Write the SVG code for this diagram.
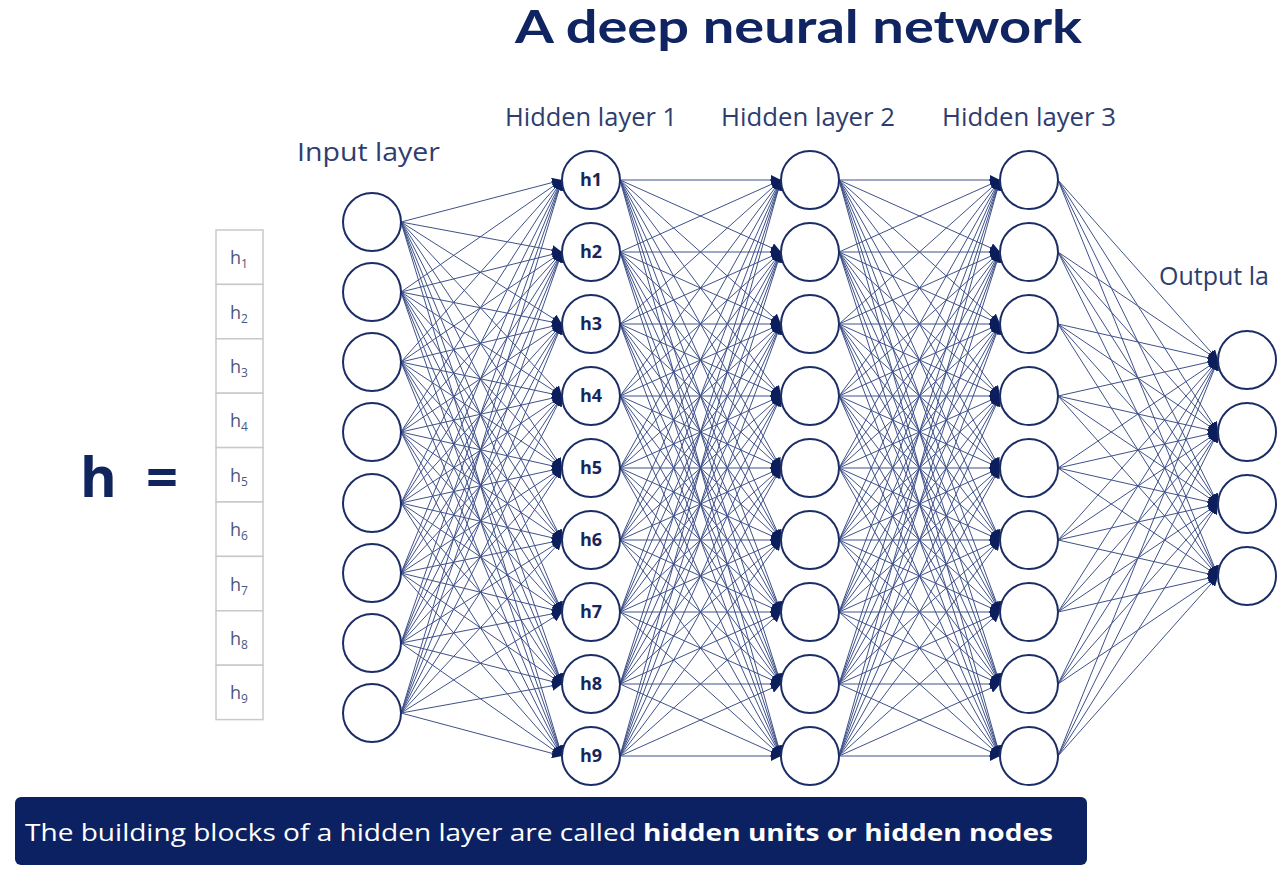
<svg xmlns="http://www.w3.org/2000/svg" width="1279" height="875" viewBox="0 0 1279 875">
<style>
.title{font-family:Lato,"Open Sans",sans-serif;font-weight:700;font-size:46px;fill:#0f2461}
.lbl{font-family:"Open Sans","Liberation Sans",sans-serif;font-size:25px;fill:#2e3d6e}
.node{fill:#ffffff;stroke:#1c2d66;stroke-width:2}
.hl{font-family:"Open Sans","Liberation Sans",sans-serif;font-weight:700;font-size:18px;fill:#15265c;text-anchor:middle}
.vbox{fill:#ffffff;stroke:#c9c9c9;stroke-width:1.5}
.vt{font-family:"Open Sans","Liberation Sans",sans-serif;font-size:18px;fill:#4a5880}
.vs{font-size:12px}
.edges line{stroke:#3f5189;stroke-width:1}
.big{font-family:"Open Sans","Liberation Sans",sans-serif;font-weight:700;font-size:56px;fill:#10245e}
.banner{fill:#0c2161}
.bt{font-family:"Open Sans","Liberation Sans",sans-serif;font-size:24px;fill:#ffffff}
</style>
<defs>
<marker id="ah" markerUnits="userSpaceOnUse" markerWidth="10" markerHeight="10" refX="10" refY="5" orient="auto">
<path d="M0,0 L10,5 L0,10 z" fill="#0c1f5c"/>
</marker>
</defs>
<rect width="1279" height="875" fill="#ffffff"/>
<text class="title" x="515" y="43" textLength="567" lengthAdjust="spacingAndGlyphs">A deep neural network</text>
<text class="lbl" x="297" y="161" font-size="28" textLength="143" lengthAdjust="spacingAndGlyphs">Input layer</text>
<text class="lbl" x="505" y="126" textLength="172" lengthAdjust="spacingAndGlyphs">Hidden layer 1</text>
<text class="lbl" x="721" y="126" textLength="174" lengthAdjust="spacingAndGlyphs">Hidden layer 2</text>
<text class="lbl" x="942" y="126" textLength="174" lengthAdjust="spacingAndGlyphs">Hidden layer 3</text>
<text class="lbl" x="1159" y="285" font-size="28">Output la</text>
<g id="hvec">
<text class="big" x="80" y="497">h</text>
<text class="big" x="146" y="497" font-weight="400" font-size="48">=</text>
<rect class="vbox" x="216" y="230" width="47" height="54.4"/>
<rect class="vbox" x="216" y="284.4" width="47" height="54.4"/>
<rect class="vbox" x="216" y="338.8" width="47" height="54.4"/>
<rect class="vbox" x="216" y="393.2" width="47" height="54.4"/>
<rect class="vbox" x="216" y="447.6" width="47" height="54.4"/>
<rect class="vbox" x="216" y="502" width="47" height="54.4"/>
<rect class="vbox" x="216" y="556.4" width="47" height="54.4"/>
<rect class="vbox" x="216" y="610.8" width="47" height="54.4"/>
<rect class="vbox" x="216" y="665.2" width="47" height="54.4"/>
<text class="vt" x="230" y="264">h<tspan class="vs" dy="4">1</tspan></text>
<text class="vt" x="230" y="319">h<tspan class="vs" dy="4">2</tspan></text>
<text class="vt" x="230" y="373">h<tspan class="vs" dy="4">3</tspan></text>
<text class="vt" x="230" y="427">h<tspan class="vs" dy="4">4</tspan></text>
<text class="vt" x="230" y="482">h<tspan class="vs" dy="4">5</tspan></text>
<text class="vt" x="230" y="536">h<tspan class="vs" dy="4">6</tspan></text>
<text class="vt" x="230" y="591">h<tspan class="vs" dy="4">7</tspan></text>
<text class="vt" x="230" y="645">h<tspan class="vs" dy="4">8</tspan></text>
<text class="vt" x="230" y="699">h<tspan class="vs" dy="4">9</tspan></text>
</g>
<g id="connectors" class="edges">
<line x1="401" y1="222" x2="562" y2="180" marker-end="url(#ah)"/><line x1="401" y1="222" x2="562" y2="252" marker-end="url(#ah)"/><line x1="401" y1="222" x2="562" y2="324" marker-end="url(#ah)"/><line x1="401" y1="222" x2="562" y2="396" marker-end="url(#ah)"/><line x1="401" y1="222" x2="562" y2="468" marker-end="url(#ah)"/><line x1="401" y1="222" x2="562" y2="540" marker-end="url(#ah)"/><line x1="401" y1="222" x2="562" y2="612" marker-end="url(#ah)"/><line x1="401" y1="222" x2="562" y2="684" marker-end="url(#ah)"/><line x1="401" y1="222" x2="562" y2="756" marker-end="url(#ah)"/>
<line x1="401" y1="292" x2="562" y2="180" marker-end="url(#ah)"/><line x1="401" y1="292" x2="562" y2="252" marker-end="url(#ah)"/><line x1="401" y1="292" x2="562" y2="324" marker-end="url(#ah)"/><line x1="401" y1="292" x2="562" y2="396" marker-end="url(#ah)"/><line x1="401" y1="292" x2="562" y2="468" marker-end="url(#ah)"/><line x1="401" y1="292" x2="562" y2="540" marker-end="url(#ah)"/><line x1="401" y1="292" x2="562" y2="612" marker-end="url(#ah)"/><line x1="401" y1="292" x2="562" y2="684" marker-end="url(#ah)"/><line x1="401" y1="292" x2="562" y2="756" marker-end="url(#ah)"/>
<line x1="401" y1="362" x2="562" y2="180" marker-end="url(#ah)"/><line x1="401" y1="362" x2="562" y2="252" marker-end="url(#ah)"/><line x1="401" y1="362" x2="562" y2="324" marker-end="url(#ah)"/><line x1="401" y1="362" x2="562" y2="396" marker-end="url(#ah)"/><line x1="401" y1="362" x2="562" y2="468" marker-end="url(#ah)"/><line x1="401" y1="362" x2="562" y2="540" marker-end="url(#ah)"/><line x1="401" y1="362" x2="562" y2="612" marker-end="url(#ah)"/><line x1="401" y1="362" x2="562" y2="684" marker-end="url(#ah)"/><line x1="401" y1="362" x2="562" y2="756" marker-end="url(#ah)"/>
<line x1="401" y1="432" x2="562" y2="180" marker-end="url(#ah)"/><line x1="401" y1="432" x2="562" y2="252" marker-end="url(#ah)"/><line x1="401" y1="432" x2="562" y2="324" marker-end="url(#ah)"/><line x1="401" y1="432" x2="562" y2="396" marker-end="url(#ah)"/><line x1="401" y1="432" x2="562" y2="468" marker-end="url(#ah)"/><line x1="401" y1="432" x2="562" y2="540" marker-end="url(#ah)"/><line x1="401" y1="432" x2="562" y2="612" marker-end="url(#ah)"/><line x1="401" y1="432" x2="562" y2="684" marker-end="url(#ah)"/><line x1="401" y1="432" x2="562" y2="756" marker-end="url(#ah)"/>
<line x1="401" y1="503" x2="562" y2="180" marker-end="url(#ah)"/><line x1="401" y1="503" x2="562" y2="252" marker-end="url(#ah)"/><line x1="401" y1="503" x2="562" y2="324" marker-end="url(#ah)"/><line x1="401" y1="503" x2="562" y2="396" marker-end="url(#ah)"/><line x1="401" y1="503" x2="562" y2="468" marker-end="url(#ah)"/><line x1="401" y1="503" x2="562" y2="540" marker-end="url(#ah)"/><line x1="401" y1="503" x2="562" y2="612" marker-end="url(#ah)"/><line x1="401" y1="503" x2="562" y2="684" marker-end="url(#ah)"/><line x1="401" y1="503" x2="562" y2="756" marker-end="url(#ah)"/>
<line x1="401" y1="573" x2="562" y2="180" marker-end="url(#ah)"/><line x1="401" y1="573" x2="562" y2="252" marker-end="url(#ah)"/><line x1="401" y1="573" x2="562" y2="324" marker-end="url(#ah)"/><line x1="401" y1="573" x2="562" y2="396" marker-end="url(#ah)"/><line x1="401" y1="573" x2="562" y2="468" marker-end="url(#ah)"/><line x1="401" y1="573" x2="562" y2="540" marker-end="url(#ah)"/><line x1="401" y1="573" x2="562" y2="612" marker-end="url(#ah)"/><line x1="401" y1="573" x2="562" y2="684" marker-end="url(#ah)"/><line x1="401" y1="573" x2="562" y2="756" marker-end="url(#ah)"/>
<line x1="401" y1="643" x2="562" y2="180" marker-end="url(#ah)"/><line x1="401" y1="643" x2="562" y2="252" marker-end="url(#ah)"/><line x1="401" y1="643" x2="562" y2="324" marker-end="url(#ah)"/><line x1="401" y1="643" x2="562" y2="396" marker-end="url(#ah)"/><line x1="401" y1="643" x2="562" y2="468" marker-end="url(#ah)"/><line x1="401" y1="643" x2="562" y2="540" marker-end="url(#ah)"/><line x1="401" y1="643" x2="562" y2="612" marker-end="url(#ah)"/><line x1="401" y1="643" x2="562" y2="684" marker-end="url(#ah)"/><line x1="401" y1="643" x2="562" y2="756" marker-end="url(#ah)"/>
<line x1="401" y1="713" x2="562" y2="180" marker-end="url(#ah)"/><line x1="401" y1="713" x2="562" y2="252" marker-end="url(#ah)"/><line x1="401" y1="713" x2="562" y2="324" marker-end="url(#ah)"/><line x1="401" y1="713" x2="562" y2="396" marker-end="url(#ah)"/><line x1="401" y1="713" x2="562" y2="468" marker-end="url(#ah)"/><line x1="401" y1="713" x2="562" y2="540" marker-end="url(#ah)"/><line x1="401" y1="713" x2="562" y2="612" marker-end="url(#ah)"/><line x1="401" y1="713" x2="562" y2="684" marker-end="url(#ah)"/><line x1="401" y1="713" x2="562" y2="756" marker-end="url(#ah)"/>
<line x1="620" y1="180" x2="781" y2="180" marker-end="url(#ah)"/><line x1="620" y1="180" x2="781" y2="252" marker-end="url(#ah)"/><line x1="620" y1="180" x2="781" y2="324" marker-end="url(#ah)"/><line x1="620" y1="180" x2="781" y2="396" marker-end="url(#ah)"/><line x1="620" y1="180" x2="781" y2="468" marker-end="url(#ah)"/><line x1="620" y1="180" x2="781" y2="540" marker-end="url(#ah)"/><line x1="620" y1="180" x2="781" y2="612" marker-end="url(#ah)"/><line x1="620" y1="180" x2="781" y2="684" marker-end="url(#ah)"/><line x1="620" y1="180" x2="781" y2="756" marker-end="url(#ah)"/>
<line x1="620" y1="252" x2="781" y2="180" marker-end="url(#ah)"/><line x1="620" y1="252" x2="781" y2="252" marker-end="url(#ah)"/><line x1="620" y1="252" x2="781" y2="324" marker-end="url(#ah)"/><line x1="620" y1="252" x2="781" y2="396" marker-end="url(#ah)"/><line x1="620" y1="252" x2="781" y2="468" marker-end="url(#ah)"/><line x1="620" y1="252" x2="781" y2="540" marker-end="url(#ah)"/><line x1="620" y1="252" x2="781" y2="612" marker-end="url(#ah)"/><line x1="620" y1="252" x2="781" y2="684" marker-end="url(#ah)"/><line x1="620" y1="252" x2="781" y2="756" marker-end="url(#ah)"/>
<line x1="620" y1="324" x2="781" y2="180" marker-end="url(#ah)"/><line x1="620" y1="324" x2="781" y2="252" marker-end="url(#ah)"/><line x1="620" y1="324" x2="781" y2="324" marker-end="url(#ah)"/><line x1="620" y1="324" x2="781" y2="396" marker-end="url(#ah)"/><line x1="620" y1="324" x2="781" y2="468" marker-end="url(#ah)"/><line x1="620" y1="324" x2="781" y2="540" marker-end="url(#ah)"/><line x1="620" y1="324" x2="781" y2="612" marker-end="url(#ah)"/><line x1="620" y1="324" x2="781" y2="684" marker-end="url(#ah)"/><line x1="620" y1="324" x2="781" y2="756" marker-end="url(#ah)"/>
<line x1="620" y1="396" x2="781" y2="180" marker-end="url(#ah)"/><line x1="620" y1="396" x2="781" y2="252" marker-end="url(#ah)"/><line x1="620" y1="396" x2="781" y2="324" marker-end="url(#ah)"/><line x1="620" y1="396" x2="781" y2="396" marker-end="url(#ah)"/><line x1="620" y1="396" x2="781" y2="468" marker-end="url(#ah)"/><line x1="620" y1="396" x2="781" y2="540" marker-end="url(#ah)"/><line x1="620" y1="396" x2="781" y2="612" marker-end="url(#ah)"/><line x1="620" y1="396" x2="781" y2="684" marker-end="url(#ah)"/><line x1="620" y1="396" x2="781" y2="756" marker-end="url(#ah)"/>
<line x1="620" y1="468" x2="781" y2="180" marker-end="url(#ah)"/><line x1="620" y1="468" x2="781" y2="252" marker-end="url(#ah)"/><line x1="620" y1="468" x2="781" y2="324" marker-end="url(#ah)"/><line x1="620" y1="468" x2="781" y2="396" marker-end="url(#ah)"/><line x1="620" y1="468" x2="781" y2="468" marker-end="url(#ah)"/><line x1="620" y1="468" x2="781" y2="540" marker-end="url(#ah)"/><line x1="620" y1="468" x2="781" y2="612" marker-end="url(#ah)"/><line x1="620" y1="468" x2="781" y2="684" marker-end="url(#ah)"/><line x1="620" y1="468" x2="781" y2="756" marker-end="url(#ah)"/>
<line x1="620" y1="540" x2="781" y2="180" marker-end="url(#ah)"/><line x1="620" y1="540" x2="781" y2="252" marker-end="url(#ah)"/><line x1="620" y1="540" x2="781" y2="324" marker-end="url(#ah)"/><line x1="620" y1="540" x2="781" y2="396" marker-end="url(#ah)"/><line x1="620" y1="540" x2="781" y2="468" marker-end="url(#ah)"/><line x1="620" y1="540" x2="781" y2="540" marker-end="url(#ah)"/><line x1="620" y1="540" x2="781" y2="612" marker-end="url(#ah)"/><line x1="620" y1="540" x2="781" y2="684" marker-end="url(#ah)"/><line x1="620" y1="540" x2="781" y2="756" marker-end="url(#ah)"/>
<line x1="620" y1="612" x2="781" y2="180" marker-end="url(#ah)"/><line x1="620" y1="612" x2="781" y2="252" marker-end="url(#ah)"/><line x1="620" y1="612" x2="781" y2="324" marker-end="url(#ah)"/><line x1="620" y1="612" x2="781" y2="396" marker-end="url(#ah)"/><line x1="620" y1="612" x2="781" y2="468" marker-end="url(#ah)"/><line x1="620" y1="612" x2="781" y2="540" marker-end="url(#ah)"/><line x1="620" y1="612" x2="781" y2="612" marker-end="url(#ah)"/><line x1="620" y1="612" x2="781" y2="684" marker-end="url(#ah)"/><line x1="620" y1="612" x2="781" y2="756" marker-end="url(#ah)"/>
<line x1="620" y1="684" x2="781" y2="180" marker-end="url(#ah)"/><line x1="620" y1="684" x2="781" y2="252" marker-end="url(#ah)"/><line x1="620" y1="684" x2="781" y2="324" marker-end="url(#ah)"/><line x1="620" y1="684" x2="781" y2="396" marker-end="url(#ah)"/><line x1="620" y1="684" x2="781" y2="468" marker-end="url(#ah)"/><line x1="620" y1="684" x2="781" y2="540" marker-end="url(#ah)"/><line x1="620" y1="684" x2="781" y2="612" marker-end="url(#ah)"/><line x1="620" y1="684" x2="781" y2="684" marker-end="url(#ah)"/><line x1="620" y1="684" x2="781" y2="756" marker-end="url(#ah)"/>
<line x1="620" y1="756" x2="781" y2="180" marker-end="url(#ah)"/><line x1="620" y1="756" x2="781" y2="252" marker-end="url(#ah)"/><line x1="620" y1="756" x2="781" y2="324" marker-end="url(#ah)"/><line x1="620" y1="756" x2="781" y2="396" marker-end="url(#ah)"/><line x1="620" y1="756" x2="781" y2="468" marker-end="url(#ah)"/><line x1="620" y1="756" x2="781" y2="540" marker-end="url(#ah)"/><line x1="620" y1="756" x2="781" y2="612" marker-end="url(#ah)"/><line x1="620" y1="756" x2="781" y2="684" marker-end="url(#ah)"/><line x1="620" y1="756" x2="781" y2="756" marker-end="url(#ah)"/>
<line x1="839" y1="180" x2="1000" y2="180" marker-end="url(#ah)"/><line x1="839" y1="180" x2="1000" y2="252" marker-end="url(#ah)"/><line x1="839" y1="180" x2="1000" y2="324" marker-end="url(#ah)"/><line x1="839" y1="180" x2="1000" y2="396" marker-end="url(#ah)"/><line x1="839" y1="180" x2="1000" y2="468" marker-end="url(#ah)"/><line x1="839" y1="180" x2="1000" y2="540" marker-end="url(#ah)"/><line x1="839" y1="180" x2="1000" y2="612" marker-end="url(#ah)"/><line x1="839" y1="180" x2="1000" y2="684" marker-end="url(#ah)"/><line x1="839" y1="180" x2="1000" y2="756" marker-end="url(#ah)"/>
<line x1="839" y1="252" x2="1000" y2="180" marker-end="url(#ah)"/><line x1="839" y1="252" x2="1000" y2="252" marker-end="url(#ah)"/><line x1="839" y1="252" x2="1000" y2="324" marker-end="url(#ah)"/><line x1="839" y1="252" x2="1000" y2="396" marker-end="url(#ah)"/><line x1="839" y1="252" x2="1000" y2="468" marker-end="url(#ah)"/><line x1="839" y1="252" x2="1000" y2="540" marker-end="url(#ah)"/><line x1="839" y1="252" x2="1000" y2="612" marker-end="url(#ah)"/><line x1="839" y1="252" x2="1000" y2="684" marker-end="url(#ah)"/><line x1="839" y1="252" x2="1000" y2="756" marker-end="url(#ah)"/>
<line x1="839" y1="324" x2="1000" y2="180" marker-end="url(#ah)"/><line x1="839" y1="324" x2="1000" y2="252" marker-end="url(#ah)"/><line x1="839" y1="324" x2="1000" y2="324" marker-end="url(#ah)"/><line x1="839" y1="324" x2="1000" y2="396" marker-end="url(#ah)"/><line x1="839" y1="324" x2="1000" y2="468" marker-end="url(#ah)"/><line x1="839" y1="324" x2="1000" y2="540" marker-end="url(#ah)"/><line x1="839" y1="324" x2="1000" y2="612" marker-end="url(#ah)"/><line x1="839" y1="324" x2="1000" y2="684" marker-end="url(#ah)"/><line x1="839" y1="324" x2="1000" y2="756" marker-end="url(#ah)"/>
<line x1="839" y1="396" x2="1000" y2="180" marker-end="url(#ah)"/><line x1="839" y1="396" x2="1000" y2="252" marker-end="url(#ah)"/><line x1="839" y1="396" x2="1000" y2="324" marker-end="url(#ah)"/><line x1="839" y1="396" x2="1000" y2="396" marker-end="url(#ah)"/><line x1="839" y1="396" x2="1000" y2="468" marker-end="url(#ah)"/><line x1="839" y1="396" x2="1000" y2="540" marker-end="url(#ah)"/><line x1="839" y1="396" x2="1000" y2="612" marker-end="url(#ah)"/><line x1="839" y1="396" x2="1000" y2="684" marker-end="url(#ah)"/><line x1="839" y1="396" x2="1000" y2="756" marker-end="url(#ah)"/>
<line x1="839" y1="468" x2="1000" y2="180" marker-end="url(#ah)"/><line x1="839" y1="468" x2="1000" y2="252" marker-end="url(#ah)"/><line x1="839" y1="468" x2="1000" y2="324" marker-end="url(#ah)"/><line x1="839" y1="468" x2="1000" y2="396" marker-end="url(#ah)"/><line x1="839" y1="468" x2="1000" y2="468" marker-end="url(#ah)"/><line x1="839" y1="468" x2="1000" y2="540" marker-end="url(#ah)"/><line x1="839" y1="468" x2="1000" y2="612" marker-end="url(#ah)"/><line x1="839" y1="468" x2="1000" y2="684" marker-end="url(#ah)"/><line x1="839" y1="468" x2="1000" y2="756" marker-end="url(#ah)"/>
<line x1="839" y1="540" x2="1000" y2="180" marker-end="url(#ah)"/><line x1="839" y1="540" x2="1000" y2="252" marker-end="url(#ah)"/><line x1="839" y1="540" x2="1000" y2="324" marker-end="url(#ah)"/><line x1="839" y1="540" x2="1000" y2="396" marker-end="url(#ah)"/><line x1="839" y1="540" x2="1000" y2="468" marker-end="url(#ah)"/><line x1="839" y1="540" x2="1000" y2="540" marker-end="url(#ah)"/><line x1="839" y1="540" x2="1000" y2="612" marker-end="url(#ah)"/><line x1="839" y1="540" x2="1000" y2="684" marker-end="url(#ah)"/><line x1="839" y1="540" x2="1000" y2="756" marker-end="url(#ah)"/>
<line x1="839" y1="612" x2="1000" y2="180" marker-end="url(#ah)"/><line x1="839" y1="612" x2="1000" y2="252" marker-end="url(#ah)"/><line x1="839" y1="612" x2="1000" y2="324" marker-end="url(#ah)"/><line x1="839" y1="612" x2="1000" y2="396" marker-end="url(#ah)"/><line x1="839" y1="612" x2="1000" y2="468" marker-end="url(#ah)"/><line x1="839" y1="612" x2="1000" y2="540" marker-end="url(#ah)"/><line x1="839" y1="612" x2="1000" y2="612" marker-end="url(#ah)"/><line x1="839" y1="612" x2="1000" y2="684" marker-end="url(#ah)"/><line x1="839" y1="612" x2="1000" y2="756" marker-end="url(#ah)"/>
<line x1="839" y1="684" x2="1000" y2="180" marker-end="url(#ah)"/><line x1="839" y1="684" x2="1000" y2="252" marker-end="url(#ah)"/><line x1="839" y1="684" x2="1000" y2="324" marker-end="url(#ah)"/><line x1="839" y1="684" x2="1000" y2="396" marker-end="url(#ah)"/><line x1="839" y1="684" x2="1000" y2="468" marker-end="url(#ah)"/><line x1="839" y1="684" x2="1000" y2="540" marker-end="url(#ah)"/><line x1="839" y1="684" x2="1000" y2="612" marker-end="url(#ah)"/><line x1="839" y1="684" x2="1000" y2="684" marker-end="url(#ah)"/><line x1="839" y1="684" x2="1000" y2="756" marker-end="url(#ah)"/>
<line x1="839" y1="756" x2="1000" y2="180" marker-end="url(#ah)"/><line x1="839" y1="756" x2="1000" y2="252" marker-end="url(#ah)"/><line x1="839" y1="756" x2="1000" y2="324" marker-end="url(#ah)"/><line x1="839" y1="756" x2="1000" y2="396" marker-end="url(#ah)"/><line x1="839" y1="756" x2="1000" y2="468" marker-end="url(#ah)"/><line x1="839" y1="756" x2="1000" y2="540" marker-end="url(#ah)"/><line x1="839" y1="756" x2="1000" y2="612" marker-end="url(#ah)"/><line x1="839" y1="756" x2="1000" y2="684" marker-end="url(#ah)"/><line x1="839" y1="756" x2="1000" y2="756" marker-end="url(#ah)"/>
<line x1="1058" y1="180" x2="1218" y2="360" marker-end="url(#ah)"/><line x1="1058" y1="180" x2="1218" y2="432" marker-end="url(#ah)"/><line x1="1058" y1="180" x2="1218" y2="504" marker-end="url(#ah)"/><line x1="1058" y1="180" x2="1218" y2="576" marker-end="url(#ah)"/>
<line x1="1058" y1="252" x2="1218" y2="360" marker-end="url(#ah)"/><line x1="1058" y1="252" x2="1218" y2="432" marker-end="url(#ah)"/><line x1="1058" y1="252" x2="1218" y2="504" marker-end="url(#ah)"/><line x1="1058" y1="252" x2="1218" y2="576" marker-end="url(#ah)"/>
<line x1="1058" y1="324" x2="1218" y2="360" marker-end="url(#ah)"/><line x1="1058" y1="324" x2="1218" y2="432" marker-end="url(#ah)"/><line x1="1058" y1="324" x2="1218" y2="504" marker-end="url(#ah)"/><line x1="1058" y1="324" x2="1218" y2="576" marker-end="url(#ah)"/>
<line x1="1058" y1="396" x2="1218" y2="360" marker-end="url(#ah)"/><line x1="1058" y1="396" x2="1218" y2="432" marker-end="url(#ah)"/><line x1="1058" y1="396" x2="1218" y2="504" marker-end="url(#ah)"/><line x1="1058" y1="396" x2="1218" y2="576" marker-end="url(#ah)"/>
<line x1="1058" y1="468" x2="1218" y2="360" marker-end="url(#ah)"/><line x1="1058" y1="468" x2="1218" y2="432" marker-end="url(#ah)"/><line x1="1058" y1="468" x2="1218" y2="504" marker-end="url(#ah)"/><line x1="1058" y1="468" x2="1218" y2="576" marker-end="url(#ah)"/>
<line x1="1058" y1="540" x2="1218" y2="360" marker-end="url(#ah)"/><line x1="1058" y1="540" x2="1218" y2="432" marker-end="url(#ah)"/><line x1="1058" y1="540" x2="1218" y2="504" marker-end="url(#ah)"/><line x1="1058" y1="540" x2="1218" y2="576" marker-end="url(#ah)"/>
<line x1="1058" y1="612" x2="1218" y2="360" marker-end="url(#ah)"/><line x1="1058" y1="612" x2="1218" y2="432" marker-end="url(#ah)"/><line x1="1058" y1="612" x2="1218" y2="504" marker-end="url(#ah)"/><line x1="1058" y1="612" x2="1218" y2="576" marker-end="url(#ah)"/>
<line x1="1058" y1="684" x2="1218" y2="360" marker-end="url(#ah)"/><line x1="1058" y1="684" x2="1218" y2="432" marker-end="url(#ah)"/><line x1="1058" y1="684" x2="1218" y2="504" marker-end="url(#ah)"/><line x1="1058" y1="684" x2="1218" y2="576" marker-end="url(#ah)"/>
<line x1="1058" y1="756" x2="1218" y2="360" marker-end="url(#ah)"/><line x1="1058" y1="756" x2="1218" y2="432" marker-end="url(#ah)"/><line x1="1058" y1="756" x2="1218" y2="504" marker-end="url(#ah)"/><line x1="1058" y1="756" x2="1218" y2="576" marker-end="url(#ah)"/>
</g>
<g id="input-layer">
<circle id="in1" class="node" cx="372" cy="222" r="29"/>
<circle id="in2" class="node" cx="372" cy="292" r="29"/>
<circle id="in3" class="node" cx="372" cy="362" r="29"/>
<circle id="in4" class="node" cx="372" cy="432" r="29"/>
<circle id="in5" class="node" cx="372" cy="503" r="29"/>
<circle id="in6" class="node" cx="372" cy="573" r="29"/>
<circle id="in7" class="node" cx="372" cy="643" r="29"/>
<circle id="in8" class="node" cx="372" cy="713" r="29"/>
</g>
<g id="hidden-layer-1">
<g id="h1"><circle class="node" cx="591" cy="180" r="29"/><text class="hl" x="591" y="186">h1</text></g>
<g id="h2"><circle class="node" cx="591" cy="252" r="29"/><text class="hl" x="591" y="258">h2</text></g>
<g id="h3"><circle class="node" cx="591" cy="324" r="29"/><text class="hl" x="591" y="330">h3</text></g>
<g id="h4"><circle class="node" cx="591" cy="396" r="29"/><text class="hl" x="591" y="402">h4</text></g>
<g id="h5"><circle class="node" cx="591" cy="468" r="29"/><text class="hl" x="591" y="474">h5</text></g>
<g id="h6"><circle class="node" cx="591" cy="540" r="29"/><text class="hl" x="591" y="546">h6</text></g>
<g id="h7"><circle class="node" cx="591" cy="612" r="29"/><text class="hl" x="591" y="618">h7</text></g>
<g id="h8"><circle class="node" cx="591" cy="684" r="29"/><text class="hl" x="591" y="690">h8</text></g>
<g id="h9"><circle class="node" cx="591" cy="756" r="29"/><text class="hl" x="591" y="762">h9</text></g>
</g>
<g id="hidden-layer-2">
<circle id="h2n1" class="node" cx="810" cy="180" r="29"/>
<circle id="h2n2" class="node" cx="810" cy="252" r="29"/>
<circle id="h2n3" class="node" cx="810" cy="324" r="29"/>
<circle id="h2n4" class="node" cx="810" cy="396" r="29"/>
<circle id="h2n5" class="node" cx="810" cy="468" r="29"/>
<circle id="h2n6" class="node" cx="810" cy="540" r="29"/>
<circle id="h2n7" class="node" cx="810" cy="612" r="29"/>
<circle id="h2n8" class="node" cx="810" cy="684" r="29"/>
<circle id="h2n9" class="node" cx="810" cy="756" r="29"/>
</g>
<g id="hidden-layer-3">
<circle id="h3n1" class="node" cx="1029" cy="180" r="29"/>
<circle id="h3n2" class="node" cx="1029" cy="252" r="29"/>
<circle id="h3n3" class="node" cx="1029" cy="324" r="29"/>
<circle id="h3n4" class="node" cx="1029" cy="396" r="29"/>
<circle id="h3n5" class="node" cx="1029" cy="468" r="29"/>
<circle id="h3n6" class="node" cx="1029" cy="540" r="29"/>
<circle id="h3n7" class="node" cx="1029" cy="612" r="29"/>
<circle id="h3n8" class="node" cx="1029" cy="684" r="29"/>
<circle id="h3n9" class="node" cx="1029" cy="756" r="29"/>
</g>
<g id="output-layer">
<circle id="o1" class="node" cx="1247" cy="360" r="29"/>
<circle id="o2" class="node" cx="1247" cy="432" r="29"/>
<circle id="o3" class="node" cx="1247" cy="504" r="29"/>
<circle id="o4" class="node" cx="1247" cy="576" r="29"/>
</g>
<g id="banner">
<rect class="banner" x="15" y="797" width="1072" height="68" rx="6"/>
<text class="bt" x="25" y="841" textLength="1028" lengthAdjust="spacingAndGlyphs">The building blocks of a hidden layer are called <tspan font-weight="700">hidden units or hidden nodes</tspan></text>
</g>
</svg>
